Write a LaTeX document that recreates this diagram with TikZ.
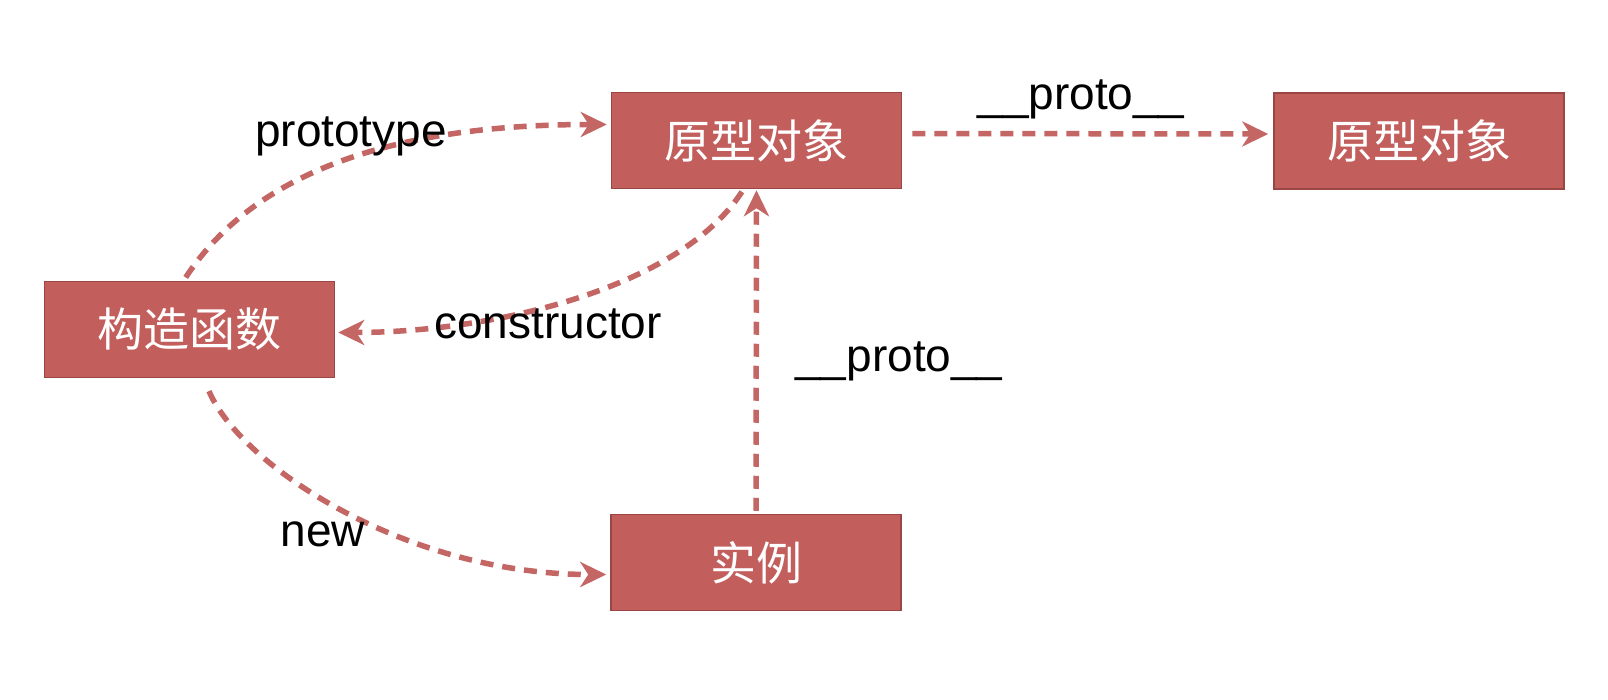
\documentclass[tikz,border=0pt]{standalone}
\usepackage{fontspec}
\setmainfont{Liberation Sans}
\newfontfamily\cjk{Noto Sans CJK SC}
\usetikzlibrary{arrows.meta}
\definecolor{boxfill}{HTML}{C25E5C}
\definecolor{boxline}{HTML}{9A4645}
\definecolor{arrowcol}{HTML}{C46664}
\tikzset{
  objbox/.style={draw=boxline, line width=1.5pt, fill=boxfill, minimum width=290pt, minimum height=96pt, inner sep=0pt, text=white, font=\cjk\fontsize{46}{50}\selectfont},
  lbl/.style={anchor=base, inner sep=0pt, font=\fontsize{46}{50}\selectfont, text=black},
  link/.style={draw=arrowcol, line width=5.5pt, dash pattern=on 13pt off 9pt, -{Stealth[length=26pt,width=25pt,inset=8pt]}}
}
\begin{document}
\begin{tikzpicture}[x=1pt,y=-1pt]
\useasboundingbox (0,0) rectangle (1608,700);
\fill[white] (0,0) rectangle (1608,700);
\node[objbox] (p1) at (756.5,140.5) {原型对象};
\node[objbox] (p2) at (1419,141) {原型对象};
\node[objbox] (ctor) at (189.5,329.5) {构造函数};
\node[objbox] (inst) at (756,562.5) {实例};
% connectors
\draw[link, shorten <=4pt, shorten >=4pt] ([xshift=-6pt]ctor.north) .. controls +(77,-117) and +(-200,0) .. ([yshift=16pt]p1.west);
\draw[link, shorten <=10pt, shorten >=5pt] ([yshift=7pt]p1.east) -- ([yshift=7pt]p2.west);
\draw[link, shorten <=3pt, shorten >=3pt] ([xshift=-13pt]p1.south) .. controls +(-63,98) and +(160,0) .. ([yshift=-3pt]ctor.east);
\draw[link, shorten <=3pt, shorten >=1pt] (inst.north) -- (p1.south);
\draw[link, shorten <=14pt, shorten >=4pt] ([xshift=14pt]ctor.south) .. controls +(37,87) and +(-205,0) .. ([yshift=-12pt]inst.west);
% labels
\node[lbl] (lproto) at (351,147) {prototype};
\node[lbl] (lp1) at (1081,110) {\_\_proto\_\_};
\node[lbl] (lcons) at (548,338) {constructor};
\node[lbl] (lp2) at (899,371) {\_\_proto\_\_};
\node[lbl] (lnew) at (323,546) {new};
\end{tikzpicture}
\end{document}
